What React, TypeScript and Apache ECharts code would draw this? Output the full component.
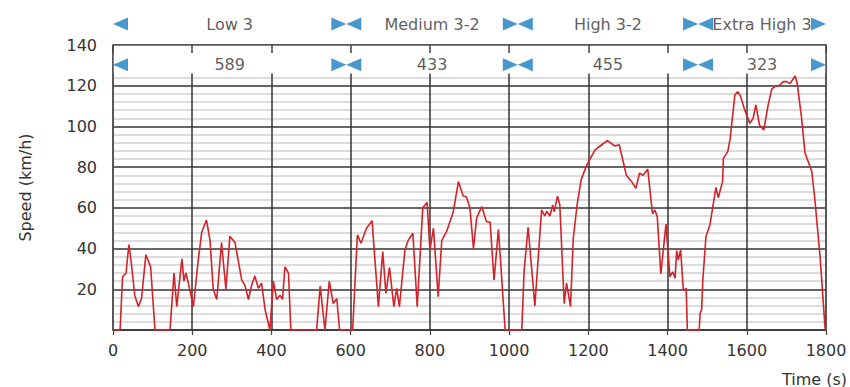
import React, { useEffect, useRef } from "react";
import * as echarts from "echarts";

// Drive cycle time points (s) and speeds (km/h)
const times = [
  0, 18, 24, 33, 40, 45, 55, 64, 72, 83, 95, 106, 144, 154, 161, 174, 179, 184, 189, 203,
  215, 224, 236, 245, 253, 262, 274, 285, 295, 308, 325, 333, 342, 350, 358, 367, 375, 384, 396, 405,
  413, 422, 428, 434, 443, 449, 514, 523, 535, 546, 556, 565, 572, 605,
  617, 626, 640, 654, 670, 681, 689, 698, 709, 716, 723, 737, 745, 757, 768, 782,
  793, 800, 809, 821, 830, 842, 859, 872, 884, 892, 901, 910, 918, 931, 943, 952, 962, 973, 990, 1032,
  1038, 1048, 1065, 1082, 1090, 1095, 1103, 1110, 1114, 1122, 1128, 1139, 1145, 1155, 1162, 1172, 1182, 1196,
  1217, 1234, 1248, 1267, 1278, 1296, 1309, 1320, 1329, 1338, 1350, 1362, 1368, 1374, 1383, 1396, 1406, 1413,
  1419, 1423, 1427, 1433, 1440, 1447, 1450, 1480,
  1482, 1486, 1489, 1497, 1507, 1522, 1528, 1539, 1541, 1552, 1558, 1570, 1577, 1584, 1595, 1608, 1616, 1623,
  1632, 1643, 1654, 1663, 1671, 1684, 1692, 1701, 1709, 1722, 1727, 1738, 1747, 1764, 1772, 1785, 1798,
];
const speeds = [
  0, 0, 26, 28, 42, 35, 17, 11.5, 15.5, 37, 31, 0, 0, 28, 11.5, 35, 24, 28, 24, 11.5,
  34, 48, 54, 44, 20, 15, 43, 20, 46, 43, 24.5, 22, 15, 22, 26.5, 20.5, 23, 10, 0, 24,
  15, 17, 15, 31, 28, 0, 0, 21.6, 0, 24, 13, 15.5, 0, 0,
  46.7, 42.6, 50, 53.7, 11.5, 38.5, 18, 30.8, 11.5, 20.5, 11.5, 39.3, 44, 47.5, 11.5, 60,
  62.6, 39.3, 50, 16.4, 44, 48.3, 58, 72.9, 65.8, 65.5, 60, 40, 55, 60.6, 53.2, 53, 24.6, 49.5, 0, 0,
  29.5, 50.5, 11.8, 59, 56, 58.4, 56, 61.4, 58, 65.8, 61.4, 13, 23, 11.5, 45, 62, 74, 81,
  88.5, 91, 93, 90.4, 91, 76, 73, 69.6, 77, 76, 79, 57, 59, 55.7, 27.5, 52, 26.2, 28.6,
  25.4, 39, 34.4, 39.3, 19.3, 20.5, 0, 0,
  8, 10, 24.6, 45.9, 51.6, 70, 65, 73, 84.3, 87.6, 94, 115.5, 117, 115, 108, 101.5, 104, 110.6,
  100.7, 98.3, 110.6, 118.3, 119.6, 120.4, 122, 122, 121, 124.8, 121.5, 104.8, 87, 78, 64, 36, 0,
];

// Phases of the cycle
const phaseNames = ["Low 3", "Medium 3-2", "High 3-2", "Extra High 3"];
const phaseDurations = [589, 433, 455, 323];

// Axis ticks
const xTicks = [0, 200, 400, 600, 800, 1000, 1200, 1400, 1600, 1800];
const yTicks = [0, 20, 40, 60, 80, 100, 120, 140];

const FONT = "DejaVu Sans";
const TEXT = "#333333";
const BLUE = "#1a7dc0";
const ROW1 = 150.3; // header row (above plot)
const ROW2 = 130.3; // duration row (inside plot)
const MASK_FROM = 126;

export default function App() {
  const ref = useRef<HTMLDivElement>(null);

  useEffect(() => {
    if (!ref.current) return;
    const chart = echarts.init(ref.current, undefined, { renderer: "svg" });

    const xMin = xTicks[0];
    const xMax = xTicks[xTicks.length - 1];
    const xInt = xTicks[1] - xTicks[0];
    const yMin = yTicks[0];
    const yMax = yTicks[yTicks.length - 1];
    const yInt = yTicks[1] - yTicks[0];

    const bounds: number[] = [0];
    phaseDurations.forEach((d) => bounds.push(bounds[bounds.length - 1] + d));
    const mids = phaseDurations.map((d, i) => bounds[i] + d / 2);

    const arrowData: any[] = [];
    [ROW1, ROW2].forEach((row) => {
      bounds.forEach((b, i) => {
        if (i > 0) {
          arrowData.push({ value: [b, row], symbolRotate: -90, symbolOffset: [-7.5, 0] });
        }
        if (i < bounds.length - 1) {
          arrowData.push({ value: [b, row], symbolRotate: 90, symbolOffset: [7.5, 0] });
        }
      });
    });

    const labelData: any[] = [];
    mids.forEach((m, i) => {
      labelData.push({ value: [m, ROW1], name: phaseNames[i] });
      labelData.push({ value: [m, ROW2], name: String(phaseDurations[i]) });
    });

    const option: any = {
      animation: false,
      textStyle: { fontFamily: FONT },
      grid: { left: 113, right: 24, top: 45, bottom: 57, containLabel: false },
      xAxis: [
        {
          type: "value",
          min: xMin,
          max: xMax,
          interval: xInt,
          position: "bottom",
          z: 0,
          axisLine: { show: true, onZero: false, lineStyle: { color: "#333", width: 1.5 } },
          axisTick: { show: true, length: 5, lineStyle: { color: "#444", width: 1.2 } },
          axisLabel: {
            fontSize: 16,
            color: TEXT,
            margin: 12,
            fontFamily: FONT,
            formatter: (v: number) => String(v),
          },
          splitLine: { show: true, lineStyle: { color: "#333", width: 1.5 } },
        },
        {
          type: "value",
          min: xMin,
          max: xMax,
          interval: xInt,
          position: "top",
          z: 5,
          axisLine: { show: true, onZero: false, lineStyle: { color: "#555", width: 1.5 } },
          axisTick: { show: true, inside: true, length: 8, lineStyle: { color: "#444", width: 1.5 } },
          axisLabel: { show: false },
          splitLine: { show: false },
        },
      ],
      yAxis: [
        {
          type: "value",
          min: yMin,
          max: yMax,
          interval: yInt,
          position: "left",
          z: 0,
          name: "Speed (km/h)",
          nameLocation: "middle",
          nameGap: 80,
          nameTextStyle: { fontSize: 16, color: TEXT, fontFamily: FONT },
          axisLine: { show: false, onZero: false },
          axisTick: { show: false },
          axisLabel: {
            fontSize: 16,
            color: TEXT,
            margin: 16,
            fontFamily: FONT,
            formatter: (v: number) => (v === 0 ? "" : String(v)),
          },
          splitLine: { show: true, lineStyle: { color: "#333", width: 1.5 } },
          minorTick: { show: false, splitNumber: 5 },
          minorSplitLine: { show: true, lineStyle: { color: "#d0d0d0", width: 1.6 } },
        },
        {
          type: "value",
          min: yMin,
          max: yMax,
          position: "left",
          z: 5,
          axisLine: { show: true, onZero: false, lineStyle: { color: "#555", width: 1.5 } },
          axisTick: { show: false },
          axisLabel: { show: false },
          splitLine: { show: false },
        },
        {
          type: "value",
          min: yMin,
          max: yMax,
          position: "right",
          z: 5,
          axisLine: { show: true, onZero: false, lineStyle: { color: "#555", width: 1.5 } },
          axisTick: { show: false },
          axisLabel: { show: false },
          splitLine: { show: false },
        },
      ],
      graphic: [
        {
          type: "text",
          right: 3,
          top: 371,
          style: { text: "Time (s)", fontSize: 16, fill: TEXT, fontFamily: FONT },
        },
      ],
      series: [
        {
          type: "custom",
          z: 1,
          silent: true,
          clip: false,
          data: [[xMin, MASK_FROM, xMax, yMax]],
          renderItem: (params: any, api: any) => {
            const p0 = api.coord([api.value(0), api.value(3)]);
            const p1 = api.coord([api.value(2), api.value(1)]);
            return {
              type: "rect",
              shape: { x: p0[0], y: p0[1], width: p1[0] - p0[0], height: p1[1] - p0[1] },
              style: { fill: "#ffffff" },
            };
          },
        },
        {
          type: "line",
          name: "Speed",
          z: 3,
          clip: false,
          symbol: "none",
          data: times.map((t, i) => [t, speeds[i]]),
          lineStyle: { color: "#d2232a", width: 1.6 },
        },
        {
          type: "scatter",
          z: 6,
          clip: false,
          silent: true,
          symbol: "triangle",
          symbolSize: [13, 15],
          itemStyle: { color: BLUE },
          data: arrowData,
        },
        {
          type: "scatter",
          z: 6,
          clip: false,
          silent: true,
          symbolSize: 1,
          itemStyle: { color: "rgba(0,0,0,0)" },
          label: {
            show: true,
            position: "inside",
            formatter: "{b}",
            fontSize: 16,
            color: TEXT,
            fontFamily: FONT,
          },
          data: labelData,
        },
      ],
    };

    chart.setOption(option);
    return () => chart.dispose();
  }, []);

  return (
    <div
      ref={ref}
      style={{ position: "fixed", left: 0, top: 0, width: 850, height: 387, background: "#fff" }}
    />
  );
}
